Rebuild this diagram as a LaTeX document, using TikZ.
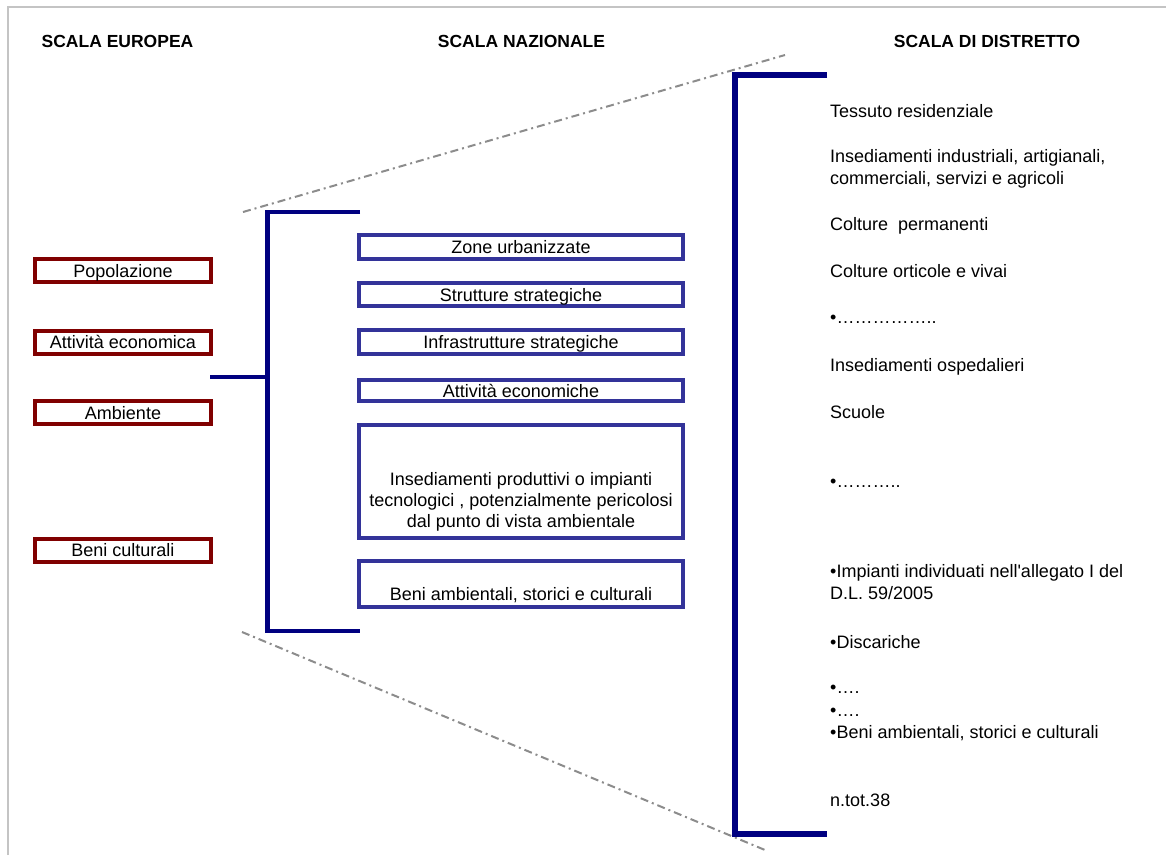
\documentclass[tikz,border=0pt]{standalone}
\usepackage{fontspec}
\setmainfont{Liberation Sans}[Ligatures=TeXOff]
\definecolor{boxred}{HTML}{800000}
\definecolor{boxblue}{HTML}{333399}
\definecolor{bracketblue}{HTML}{000080}
\definecolor{framegray}{HTML}{C4C4C4}
\definecolor{dashgray}{HTML}{8C8C8C}
\tikzset{
  basefont/.style={font=\fontsize{18}{22}\selectfont},
  header/.style={anchor=base, inner sep=0pt, font=\fontsize{17.5}{21}\selectfont\bfseries},
  eubox/.style={draw=boxred, line width=4pt, minimum width=176pt, minimum height=23pt,
    inner sep=0pt, text height=13pt, text depth=0pt},
  natbox/.style={draw=boxblue, line width=3.6pt, minimum width=324pt,
    inner sep=0pt, text height=13pt, text depth=0pt},
  nattext/.style={anchor=base, inner sep=0pt, align=center},
  distext/.style={anchor=base west, inner sep=0pt, align=left},
  bracket/.style={draw=bracketblue, line width=4.5pt},
  bigbracket/.style={draw=bracketblue, line width=6pt},
  funnel/.style={draw=dashgray, line width=2pt, dash pattern=on 8pt off 4pt on 2pt off 4pt},
}
\begin{document}
\begin{tikzpicture}[x=1pt,y=-1pt,basefont]
\useasboundingbox (0,0) rectangle (1166,855);
% frame
\draw[framegray, line width=2.5pt] (8,855) -- (8,7) -- (1166,7);

% headers
\node[header] (h1) at (117.5,47) {SCALA EUROPEA};
\node[header] (h2) at (521.5,47) {SCALA NAZIONALE};
\node[header] (h3) at (987,47) {SCALA DI DISTRETTO};

% funnel lines
\coordinate (ft1) at (243,212);
\coordinate (ft2) at (785,55);
\coordinate (fb1) at (242,632);
\coordinate (fb2) at (765,850);
\draw[funnel] (ft1) -- (ft2);
\draw[funnel] (fb1) -- (fb2);

% european boxes
\node[eubox] (e1) at (123,270.5) {Popolazione};
\node[eubox] (e2) at (123,342) {Attività economica};
\node[eubox] (e3) at (123,412.5) {Ambiente};
\node[eubox] (e4) at (123,550) {Beni culturali};

% left bracket
\coordinate (lb1) at (360,212);
\coordinate (lb2) at (267.5,212);
\coordinate (lb3) at (267.5,631);
\coordinate (lb4) at (360,631);
\coordinate (lbm) at (267.5,377);
\coordinate (lconn) at (210,377);
\draw[bracket] (lb1) -- (lb2) -- (lb3) -- (lb4);
\draw[bracket] (lconn) -- (lbm);

% national boxes
\node[natbox, minimum height=24pt] (n1) at (521,247) {Zone urbanizzate};
\node[natbox, minimum height=23pt] (n2) at (521,294.5) {Strutture strategiche};
\node[natbox, minimum height=24pt] (n3) at (521,342) {Infrastrutture strategiche};
\node[natbox, minimum height=21pt] (n4) at (521,390.5) {Attività economiche};
\node[natbox, minimum height=113pt] (n5) at (521,481.5) {};
\node[nattext, font=\fontsize{18}{21}\selectfont] (n5t) at (521,527)
  {Insediamenti produttivi o impianti\\tecnologici , potenzialmente pericolosi\\dal punto di vista ambientale};
\node[natbox, minimum height=46pt] (n6) at (521,584) {};
\node[nattext] (n6t) at (521,600) {Beni ambientali, storici e culturali};

% right bracket
\coordinate (rb1) at (827,75);
\coordinate (rb2) at (734.5,75);
\coordinate (rb3) at (734.5,834);
\coordinate (rb4) at (827,834);
\draw[bigbracket] (rb1) -- (rb2) -- (rb3) -- (rb4);

% district list
\node[distext] (d1) at (830,117) {Tessuto residenziale};
\node[distext] (d2) at (830,184) {Insediamenti industriali, artigianali,\\commerciali, servizi e agricoli};
\node[distext] (d3) at (830,230) {Colture\ \ permanenti};
\node[distext] (d4) at (830,277) {Colture orticole e vivai};
\node[distext] (d5) at (830,323) {•……………..};
\node[distext] (d6) at (830,371) {Insediamenti ospedalieri};
\node[distext] (d7) at (830,418) {Scuole};
\node[distext] (d8) at (830,487) {•………..};
\node[distext] (d9) at (830,599) {•Impianti individuati nell'allegato I del\\D.L. 59/2005};
\node[distext] (d10) at (830,648) {•Discariche};
\node[distext] (d11) at (830,693) {•….};
\node[distext] (d12) at (830,716) {•….};
\node[distext] (d13) at (830,738) {•Beni ambientali, storici e culturali};
\node[distext] (d14) at (830,806) {n.tot.38};
\end{tikzpicture}
\end{document}
